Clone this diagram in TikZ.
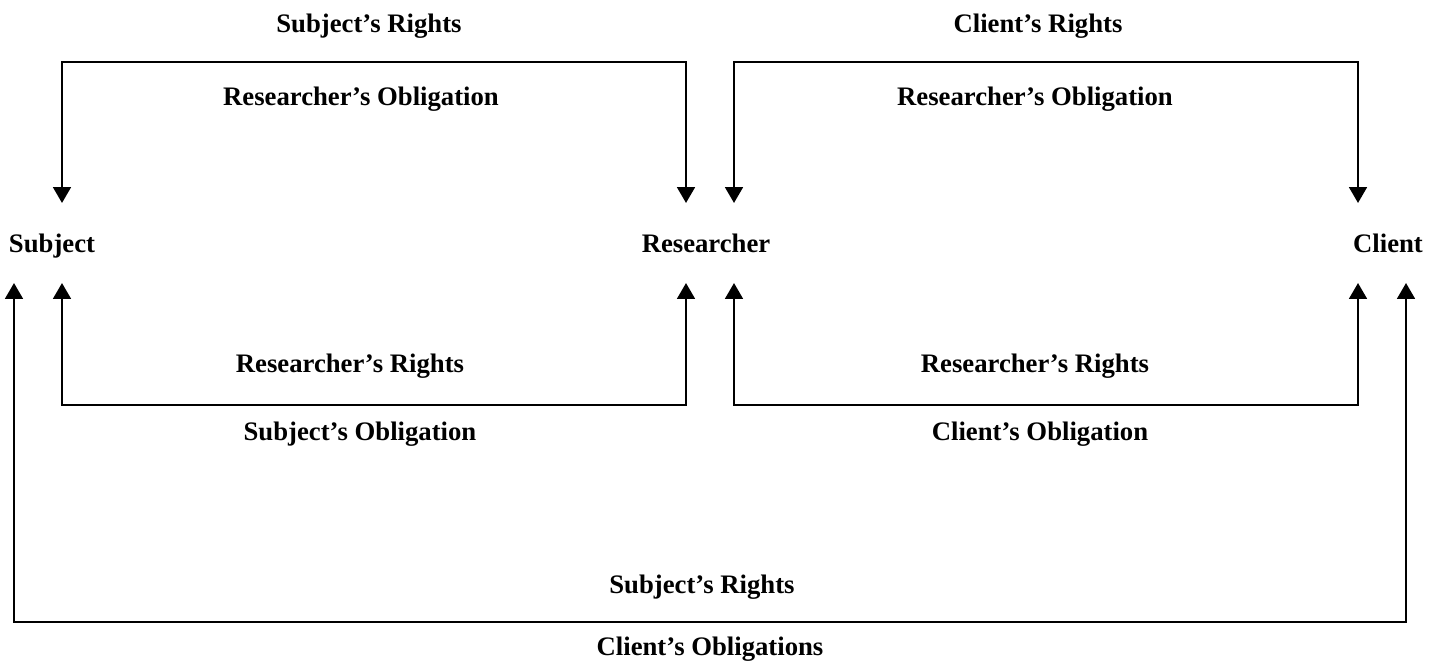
\documentclass[tikz,border=0pt]{standalone}
\usepackage{fontspec}
\setmainfont{Liberation Serif}
\usetikzlibrary{arrows.meta,calc}

\tikzset{
  party/.style={font=\fontsize{15.2}{18}\selectfont\bfseries, inner sep=0pt, anchor=base},
  duty/.style={font=\fontsize{15.2}{18}\selectfont\bfseries, inner sep=0pt, anchor=base},
  link/.style={line width=1.5pt, {Triangle[width=10pt,length=9pt]}-{Triangle[width=10pt,length=9pt]}},
}

\begin{document}
\begin{tikzpicture}[x=0.02cm, y=-0.02cm]
\useasboundingbox (0,0) rectangle (1439,663);

% the three parties
\node[party] (subj) at (52,252)   {Subject};
\node[party] (res)  at (706,252)  {Researcher};
\node[party] (cli)  at (1388,252) {Client};

% arrow tips above and below the parties
\coordinate (subj-n)  at (62,203);
\coordinate (resw-n)  at (686,203);
\coordinate (rese-n)  at (734,203);
\coordinate (cli-n)   at (1358,203);
\coordinate (subjw-s) at (14,283);
\coordinate (subj-s)  at (62,283);
\coordinate (resw-s)  at (686,283);
\coordinate (rese-s)  at (734,283);
\coordinate (cli-s)   at (1358,283);
\coordinate (clie-s)  at (1406,283);

% rows of the frames
\coordinate (toprow) at (0,62);
\coordinate (midrow) at (0,405);
\coordinate (lowrow) at (0,622);

% upper frames
\draw[link] (subj-n) -- (subj-n |- toprow) -- (resw-n |- toprow) -- (resw-n);
\draw[link] (rese-n) -- (rese-n |- toprow) -- (cli-n |- toprow) -- (cli-n);

% lower frames
\draw[link] (subj-s) -- (subj-s |- midrow) -- (resw-s |- midrow) -- (resw-s);
\draw[link] (rese-s) -- (rese-s |- midrow) -- (cli-s |- midrow) -- (cli-s);

% outer frame
\draw[link] (subjw-s) -- (subjw-s |- lowrow) -- (clie-s |- lowrow) -- (clie-s);

% labels
\node[duty] (sr-top)  at (369,32)  {Subject’s Rights};
\node[duty] (cr-top)  at (1038,32) {Client’s Rights};
\node[duty] (ro-left) at (361,105) {Researcher’s Obligation};
\node[duty] (ro-rght) at (1035,105) {Researcher’s Obligation};
\node[duty] (rr-left) at (350,372) {Researcher’s Rights};
\node[duty] (rr-rght) at (1035,372) {Researcher’s Rights};
\node[duty] (so)      at (360,440) {Subject’s Obligation};
\node[duty] (co)      at (1040,440) {Client’s Obligation};
\node[duty] (sr-low)  at (702,593) {Subject’s Rights};
\node[duty] (cos)     at (710,655) {Client’s Obligations};
\end{tikzpicture}
\end{document}
